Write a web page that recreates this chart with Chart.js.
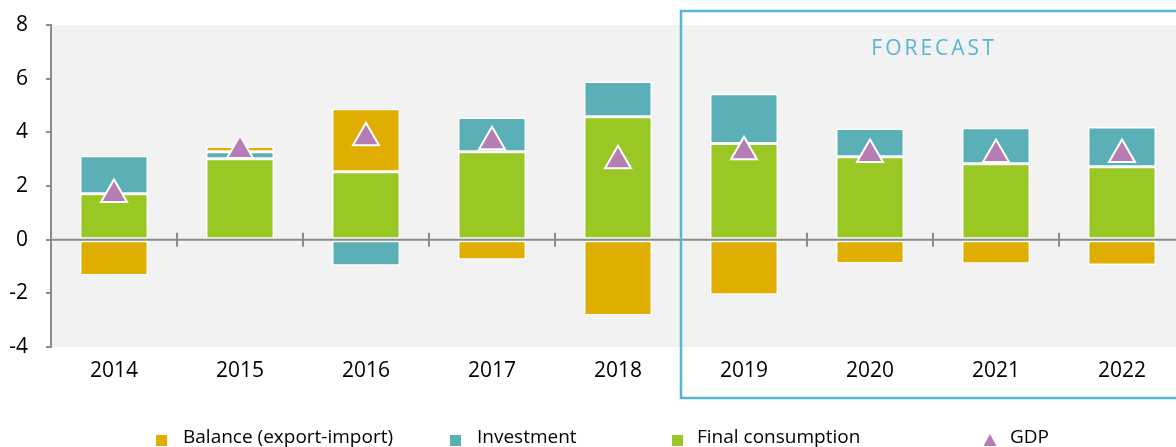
<!DOCTYPE html>
<html>
<head>
<meta charset="utf-8">
<script src="https://cdn.jsdelivr.net/npm/chart.js@4.4.1/dist/chart.umd.min.js"></script>
<style>
html, body { margin:0; padding:0; overflow:hidden; background:#fff; }
#wrap { position:relative; width:1176px; height:447px; overflow:hidden; }
</style>
</head>
<body>
<div id="wrap"><canvas id="chart" width="1185" height="447"></canvas></div>
<script>
const years = ['2014', '2015', '2016', '2017', '2018', '2019', '2020', '2021', '2022'];
const consumption = [1.71, 3.02, 2.53, 3.28, 4.58, 3.58, 3.09, 2.83, 2.72];
const investment = [1.42, 0.26, -0.97, 1.27, 1.31, 1.86, 1.05, 1.34, 1.48];
const balance = [-1.34, 0.19, 2.35, -0.75, -2.83, -2.05, -0.89, -0.90, -0.94];
const gdp = [1.68, 3.32, 3.80, 3.65, 2.94, 3.28, 3.17, 3.17, 3.17];
const yTicks = [-4, -2, 0, 2, 4, 6, 8];
const forecastFrom = '2019';

const FONT = "'Open Sans', sans-serif";
const GREY = '#8c8c8c';

// grey plot area behind the bars
const plotBg = {
  id: 'plotBg',
  beforeDraw(chart) {
    const { ctx, chartArea: a } = chart;
    ctx.save();
    ctx.fillStyle = '#f2f2f2';
    ctx.fillRect(a.left, a.top, a.right - a.left, a.bottom - a.top);
    ctx.restore();
  }
};

// zero line with tick marks between categories
const zeroLine = {
  id: 'zeroLine',
  afterDatasetsDraw(chart) {
    const { ctx, chartArea: a, scales: { x, y } } = chart;
    const y0 = y.getPixelForValue(0);
    ctx.save();
    ctx.strokeStyle = GREY;
    ctx.lineWidth = 2;
    ctx.beginPath();
    ctx.moveTo(a.left, y0);
    ctx.lineTo(a.right, y0);
    const half = (x.getPixelForValue(1) - x.getPixelForValue(0)) / 2;
    for (let i = 1; i < years.length; i++) {
      const bx = x.getPixelForValue(i) - half;
      ctx.moveTo(bx, y0 - 7);
      ctx.lineTo(bx, y0 + 7);
    }
    ctx.stroke();
    ctx.restore();
  }
};

// forecast frame + legend
const extras = {
  id: 'extras',
  afterDraw(chart) {
    const { ctx, chartArea: a, scales: { x } } = chart;
    const idx = years.indexOf(forecastFrom);
    const half = (x.getPixelForValue(1) - x.getPixelForValue(0)) / 2;
    const fx = x.getPixelForValue(idx) - half;
    ctx.save();
    ctx.strokeStyle = '#5ab4d4';
    ctx.lineWidth = 2.5;
    ctx.strokeRect(fx, 11, chart.width - fx + 10, 387);
    ctx.fillStyle = '#5ab4d4';
    ctx.font = '21px ' + FONT;
    ctx.letterSpacing = '3px';
    ctx.textAlign = 'center';
    ctx.textBaseline = 'middle';
    ctx.fillText('FORECAST', (fx + a.right) / 2 + 1, 49);
    ctx.restore();

    // legend
    const ds = chart.data.datasets;
    const items = [
      { d: ds[2], mx: 156, tx: 183 },
      { d: ds[1], mx: 450, tx: 477 },
      { d: ds[0], mx: 672, tx: 697 },
      { d: ds[3], mx: 984, tx: 1010 }
    ];
    ctx.save();
    ctx.font = '19px ' + FONT;
    ctx.textBaseline = 'alphabetic';
    ctx.textAlign = 'left';
    items.forEach(it => {
      ctx.fillStyle = it.d.backgroundColor;
      if (it.d.type === 'line') {
        ctx.beginPath();
        ctx.moveTo(it.mx + 6, 434);
        ctx.lineTo(it.mx + 12.5, 446);
        ctx.lineTo(it.mx - 0.5, 446);
        ctx.closePath();
        ctx.fill();
      } else {
        ctx.fillRect(it.mx, 435, 11, 11);
      }
      ctx.fillStyle = '#000';
      ctx.fillText(it.d.label, it.tx, 443);
    });
    ctx.restore();
  }
};

const barStyle = { borderColor: '#fff', borderWidth: 1.5, borderSkipped: false,
  barPercentage: 0.54, categoryPercentage: 1 };

new Chart(document.getElementById('chart'), {
  type: 'bar',
  data: {
    labels: years,
    datasets: [
      { label: 'Final consumption', data: consumption, backgroundColor: '#99c723', order: 2, ...barStyle },
      { label: 'Investment', data: investment, backgroundColor: '#5bb0b8', order: 2, ...barStyle },
      { label: 'Balance (export-import)', data: balance, backgroundColor: '#dfae00', order: 2, ...barStyle },
      { type: 'line', label: 'GDP', data: gdp, showLine: false, order: 1, stack: 'gdp',
        backgroundColor: '#b67db5', borderColor: '#fff', borderWidth: 2,
        pointStyle: 'triangle', pointRadius: 15, pointHoverRadius: 15 }
    ]
  },
  options: {
    responsive: false,
    animation: false,
    devicePixelRatio: 1,
    layout: { autoPadding: false, padding: { top: 25, left: 0, right: 0, bottom: 0 } },
    plugins: { legend: { display: false }, tooltip: { enabled: false } },
    scales: {
      x: {
        stacked: true,
        grid: { display: false, drawTicks: false },
        border: { display: false },
        ticks: { color: '#000', font: { family: FONT, size: 21 }, padding: 11 },
        afterFit: s => { s.height = 100; s.paddingLeft = 0; s.paddingRight = 0; }
      },
      y: {
        stacked: true,
        min: -4, max: 8,
        afterBuildTicks: s => { s.ticks = yTicks.map(v => ({ value: v })); },
        grid: { drawOnChartArea: false, tickLength: 5, color: GREY, lineWidth: 2 },
        border: { display: true, color: GREY, width: 2 },
        ticks: { color: '#000', font: { family: FONT, size: 21 }, padding: 18 },
        afterFit: s => { s.width = 51; s.paddingTop = 0; s.paddingBottom = 0; }
      }
    }
  },
  plugins: [plotBg, zeroLine, extras]
});
</script>
</body>
</html>
